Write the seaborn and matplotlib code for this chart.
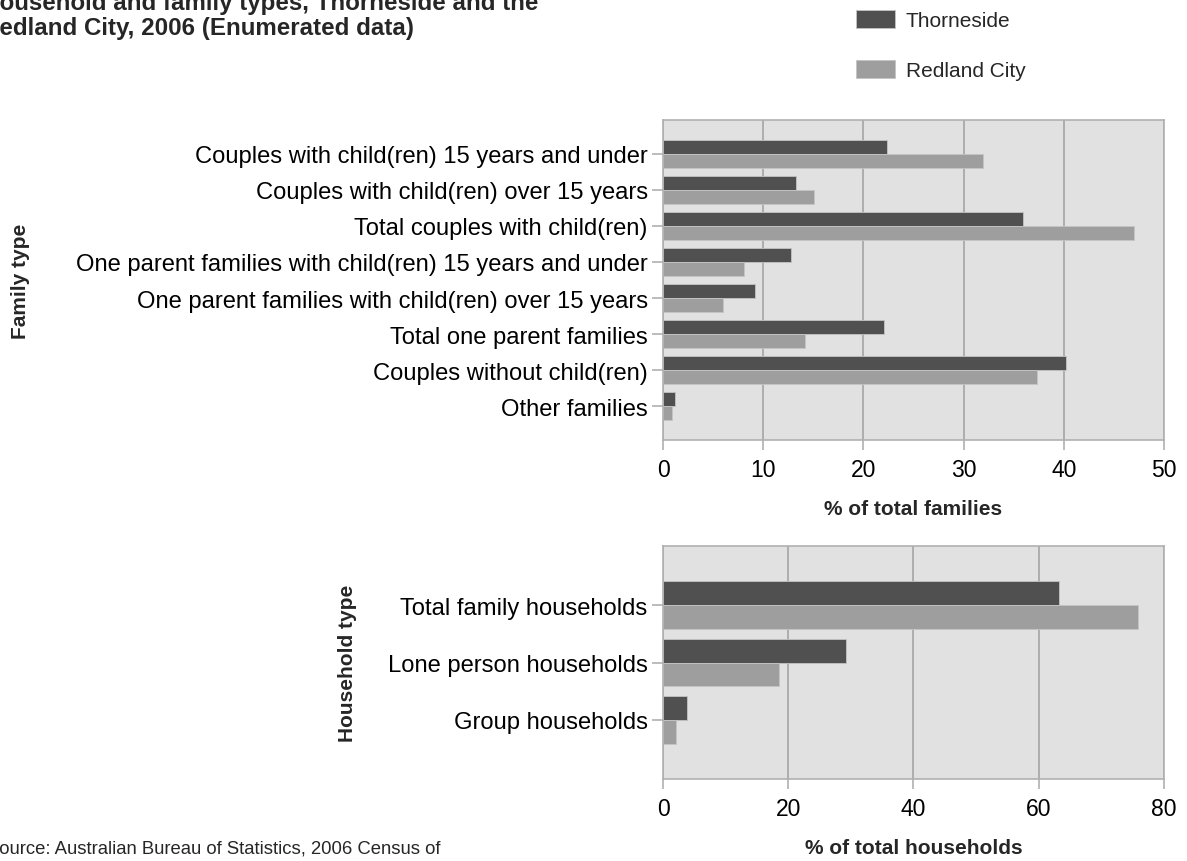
"""Household and family types bar charts, Thorneside vs Redland City 2006."""
import matplotlib
matplotlib.use("Agg")
import matplotlib.pyplot as plt
import pandas as pd
import seaborn as sns
from matplotlib.patches import Patch

AREAS = ["Thorneside", "Redland City"]
COLORS = {"Thorneside": "#505050", "Redland City": "#9e9e9e"}

family_types = [
    "Couples with child(ren) 15 years and under",
    "Couples with child(ren) over 15 years",
    "Total couples with child(ren)",
    "One parent families with child(ren) 15 years and under",
    "One parent families with child(ren) over 15 years",
    "Total one parent families",
    "Couples without child(ren)",
    "Other families",
]
family_thorneside = [22.4, 13.3, 35.9, 12.8, 9.2, 22.1, 40.2, 1.2]
family_redland = [31.9, 15.1, 47.0, 8.1, 6.0, 14.2, 37.3, 0.9]

household_types = ["Total family households", "Lone person households", "Group households"]
household_thorneside = [63.3, 29.2, 3.8]
household_redland = [75.9, 18.5, 2.1]


def long_frame(cats, thorn, redland):
    rows = [(c, "Thorneside", v) for c, v in zip(cats, thorn)]
    rows += [(c, "Redland City", v) for c, v in zip(cats, redland)]
    return pd.DataFrame(rows, columns=["type", "area", "value"])


def style_axis(ax, xmax, step, xlabel, ylabel, label_x):
    ax.set_facecolor("#e1e1e1")
    ax.set_xlim(0, xmax)
    ax.set_xticks(range(0, xmax + 1, step))
    ax.grid(axis="x", color="#a4a4a4", linewidth=1.2)
    ax.grid(axis="y", visible=False)
    ax.set_axisbelow(True)
    for s in ax.spines.values():
        s.set_color("#b0b0b0")
        s.set_linewidth(1.2)
    ax.tick_params(axis="both", direction="out", left=True, bottom=True, color="#b0b0b0", width=1.2,
                   labelcolor="black")
    ax.tick_params(axis="y", length=8, pad=3, labelsize=17.1)
    ax.tick_params(axis="x", length=7, pad=6, labelsize=16.5)
    ax.set_xlabel(xlabel, fontsize=15, fontweight="bold", labelpad=13)
    ax.set_ylabel(ylabel, fontsize=15, fontweight="bold")
    ax.yaxis.set_label_coords(label_x, 0.5)
    if ax.get_legend() is not None:
        ax.get_legend().remove()


sns.set_style("white")
plt.rcParams["font.family"] = ["Liberation Sans", "DejaVu Sans"]

fig = plt.figure(figsize=(11.87, 8.62), dpi=100)
ax1 = fig.add_axes([663 / 1187, 1 - 441 / 862, 501 / 1187, 320 / 862])
ax2 = fig.add_axes([663 / 1187, 1 - 780 / 862, 501 / 1187, 233 / 862])

sns.barplot(data=long_frame(family_types, family_thorneside, family_redland), y="type", x="value", hue="area",
            hue_order=AREAS, palette=COLORS, orient="h", width=0.78, edgecolor="#c4c4c4", linewidth=0.6, ax=ax1)
ax1.set_ylim(7.944, -0.944)
style_axis(ax1, 50, 10, "% of total families", "Family type", (30 - 663) / 501)

sns.barplot(data=long_frame(household_types, household_thorneside, household_redland), y="type", x="value", hue="area",
            hue_order=AREAS, palette=COLORS, orient="h", width=0.83, edgecolor="#c4c4c4", linewidth=0.6, ax=ax2)
ax2.set_ylim(3.03, -1.03)
style_axis(ax2, 80, 20, "% of total households", "Household type", (357 - 663) / 501)

handles = [Patch(facecolor=COLORS[a], edgecolor="#c4c4c4", linewidth=0.6) for a in AREAS]
fig.legend(handles, AREAS, loc="upper left", bbox_to_anchor=(839 / 1187, 1 + 6 / 862), frameon=False, fontsize=15,
           handlelength=1.9, handleheight=0.95, labelspacing=1.45, handletextpad=0.5, borderpad=0.3)

fig.text(-18 / 1187, 1 - 16 / 862, "Household and family types, Thorneside and the\nRedland City, 2006 (Enumerated data)",
         fontsize=17.4, fontweight="bold", ha="left", va="center", linespacing=1.15)
fig.text(-13 / 1187, 1 - 841 / 862, "Source: Australian Bureau of Statistics, 2006 Census of\nPopulation and Housing (Enumerated data)",
         fontsize=13.3, ha="left", va="top", linespacing=1.2)

fig.savefig("out.png", dpi=100)
